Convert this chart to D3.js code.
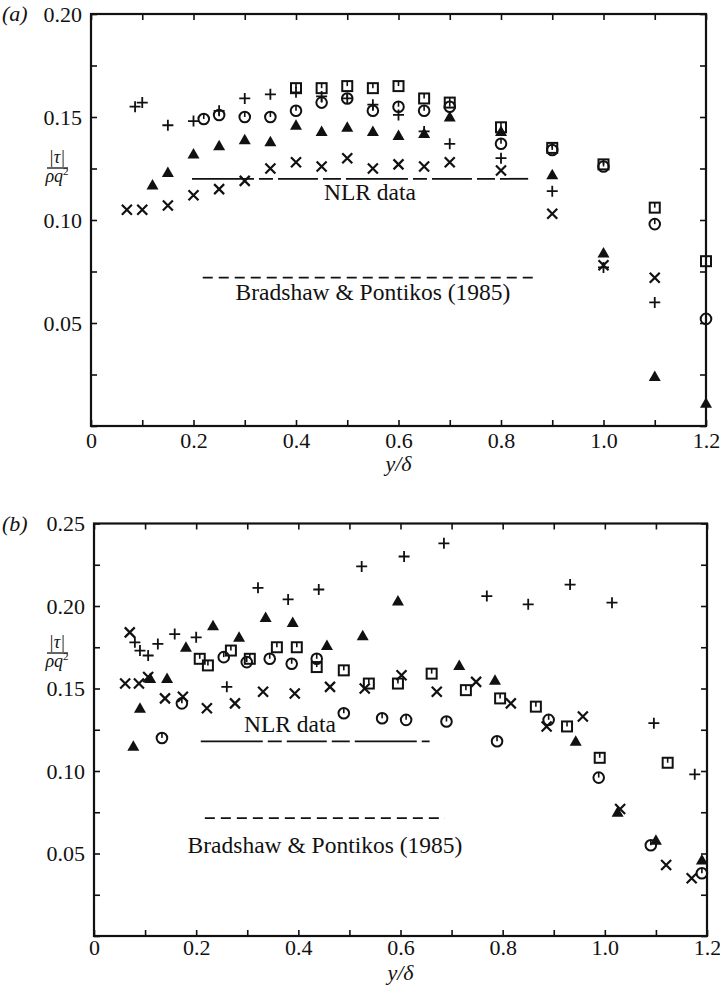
<!DOCTYPE html>
<html><head><meta charset="utf-8">
<script src="https://cdn.jsdelivr.net/npm/d3@7"></script>
<style>
html,body{margin:0;padding:0;background:#fff;}
text{font-family:"Liberation Serif","Times New Roman",serif;fill:#111;}
</style></head>
<body><div id="chart"></div>
<script>
// ---------- DATA ----------
const xTickValues = [0,0.1,0.2,0.3,0.4,0.5,0.6,0.7,0.8,0.9,1.0,1.1,1.2];
const xTickLabels = ["0","","0.2","","0.4","","0.6","","0.8","","1.0","","1.2"];
const yTicksA = [0,0.025,0.05,0.075,0.10,0.125,0.15,0.175,0.20];
const yTickLabelsA = ["","","0.05","","0.10","","0.15","","0.20"];
const yTicksB = [0,0.025,0.05,0.075,0.10,0.125,0.15,0.175,0.20,0.225,0.25];
const yTickLabelsB = ["","","0.05","","0.10","","0.15","","0.20","","0.25"];

// panel (a)
const squaresA_x = [0.40,0.45,0.50,0.55,0.60,0.65,0.70,0.80,0.90,1.00,1.10,1.20];
const squaresA_y = [0.164,0.164,0.165,0.164,0.165,0.159,0.157,0.145,0.135,0.127,0.106,0.080];
const circlesA_x = [0.22,0.25,0.30,0.35,0.40,0.45,0.50,0.55,0.60,0.65,0.70,0.80,0.90,1.00,1.10,1.20];
const circlesA_y = [0.149,0.151,0.150,0.150,0.153,0.157,0.159,0.153,0.155,0.153,0.155,0.137,0.134,0.126,0.098,0.052];
const trianglesA_x = [0.12,0.15,0.20,0.25,0.30,0.35,0.40,0.45,0.50,0.55,0.60,0.65,0.70,0.80,0.90,1.00,1.10,1.20];
const trianglesA_y = [0.117,0.123,0.132,0.136,0.139,0.138,0.146,0.143,0.145,0.143,0.141,0.142,0.150,0.143,0.122,0.084,0.024,0.011];
const plusA_x = [0.086,0.10,0.15,0.20,0.25,0.30,0.35,0.40,0.45,0.50,0.55,0.60,0.65,0.70,0.80,0.90,1.00,1.10];
const plusA_y = [0.155,0.157,0.146,0.148,0.153,0.159,0.161,0.162,0.160,0.159,0.156,0.151,0.143,0.137,0.130,0.114,0.077,0.060];
const crossA_x = [0.07,0.10,0.15,0.20,0.25,0.30,0.35,0.40,0.45,0.50,0.55,0.60,0.65,0.70,0.80,0.90,1.00,1.10];
const crossA_y = [0.105,0.105,0.107,0.112,0.115,0.119,0.125,0.128,0.126,0.130,0.125,0.127,0.126,0.128,0.124,0.103,0.078,0.072];
const nlrA = [0.197,0.853,0.120];      // x start, x end, level
const bradA = [0.218,0.862,0.072];

// panel (b)
const squaresB_x = [0.207,0.223,0.268,0.305,0.358,0.397,0.436,0.489,0.538,0.595,0.661,0.728,0.795,0.865,0.926,0.990,1.123];
const squaresB_y = [0.168,0.164,0.173,0.168,0.175,0.175,0.163,0.161,0.153,0.153,0.159,0.149,0.144,0.139,0.127,0.108,0.105];
const circlesB_x = [0.133,0.172,0.254,0.299,0.344,0.387,0.436,0.489,0.564,0.611,0.690,0.789,0.890,0.988,1.09,1.19];
const circlesB_y = [0.120,0.141,0.169,0.166,0.168,0.165,0.168,0.135,0.132,0.131,0.130,0.118,0.131,0.096,0.055,0.038];
const trianglesB_x = [0.077,0.090,0.110,0.143,0.180,0.233,0.284,0.336,0.389,0.456,0.526,0.595,0.715,0.785,0.943,1.025,1.10,1.19];
const trianglesB_y = [0.115,0.138,0.156,0.156,0.175,0.188,0.181,0.193,0.190,0.176,0.182,0.203,0.164,0.155,0.118,0.075,0.058,0.046];
const plusB_x = [0.080,0.090,0.106,0.125,0.158,0.200,0.260,0.321,0.380,0.440,0.524,0.607,0.685,0.769,0.850,0.932,1.014,1.096,1.176];
const plusB_y = [0.178,0.173,0.170,0.177,0.183,0.181,0.151,0.211,0.204,0.210,0.224,0.230,0.238,0.206,0.201,0.213,0.202,0.129,0.098];
const crossB_x = [0.061,0.070,0.088,0.106,0.139,0.174,0.221,0.276,0.331,0.393,0.462,0.530,0.602,0.671,0.748,0.816,0.886,0.957,1.03,1.12,1.17];
const crossB_y = [0.153,0.184,0.153,0.157,0.144,0.145,0.138,0.141,0.148,0.147,0.151,0.150,0.158,0.148,0.154,0.141,0.127,0.133,0.077,0.043,0.035];
const nlrB = [0.209,0.657,0.118];
const bradB = [0.217,0.687,0.0715];

const textNLR = "NLR data";
const textBrad = "Bradshaw & Pontikos (1985)";

// ---------- DRAW ----------
const W = 720, H = 985;
const svg = d3.select("#chart").append("svg").attr("width", W).attr("height", H);
const FS = 22, FS_NOTE = 23.5;

function zip(xs, ys){ return xs.map((x,i)=>[x, ys[i]]); }

function drawPanel(o){
  const g = svg.append("g");
  const x = d3.scaleLinear().domain([0,1.2]).range(o.xr);
  const y = d3.scaleLinear().domain(o.yd).range(o.yr);

  const clean = s => s.select(".domain").remove();
  g.append("g").attr("transform",`translate(0,${o.yr[0]})`)
    .call(d3.axisBottom(x).tickValues(xTickValues).tickSize(-6).tickPadding(o.xPad)
      .tickFormat((d,i)=>xTickLabels[i]))
    .call(clean);
  g.append("g").attr("transform",`translate(0,${o.yr[1]})`)
    .call(d3.axisTop(x).tickValues(xTickValues).tickSize(-6).tickFormat(""))
    .call(clean);
  g.append("g").attr("transform",`translate(${o.xr[0]},0)`)
    .call(d3.axisLeft(y).tickValues(o.yt).tickSize(-6).tickPadding(9)
      .tickFormat((d,i)=>o.ytl[i]))
    .call(clean);
  g.append("g").attr("transform",`translate(${o.xr[1]},0)`)
    .call(d3.axisRight(y).tickValues(o.yt).tickSize(-6).tickFormat(""))
    .call(clean);
  g.selectAll(".tick line").attr("stroke","#111").attr("stroke-width",1.6);
  g.selectAll(".tick text").attr("font-size",FS).attr("fill","#111")
    .style("font-family",'"Liberation Serif","Times New Roman",serif');

  g.append("rect").attr("x",o.xr[0]).attr("y",o.yr[1])
    .attr("width",o.xr[1]-o.xr[0]).attr("height",o.yr[0]-o.yr[1])
    .attr("fill","none").attr("stroke","#111").attr("stroke-width",2.2);

  g.append("text").attr("x",2).attr("y",y(o.yd[1])+7).attr("font-size",FS)
    .attr("font-style","italic").text(o.label);

  const ty = o.titleY;
  g.append("text").attr("x",57).attr("y",ty-5).attr("text-anchor","middle")
    .attr("font-size",18).attr("font-style","italic").text("|τ|");
  g.append("line").attr("x1",47).attr("x2",68).attr("y1",ty).attr("y2",ty)
    .attr("stroke","#111").attr("stroke-width",1.3);
  const den = g.append("text").attr("x",57).attr("y",ty+14).attr("text-anchor","middle")
    .attr("font-size",18).attr("font-style","italic");
  den.append("tspan").text("ρq");
  den.append("tspan").attr("dy",-7).attr("font-size",11).attr("font-style","normal").text("2");

  g.append("text").attr("x",(o.xr[0]+o.xr[1])/2).attr("y",o.yr[0]+o.xTitleOff)
    .attr("text-anchor","middle").attr("font-size",FS).attr("font-style","italic")
    .text("y/δ");

  g.append("line").attr("x1",x(o.nlr[0])).attr("x2",x(o.nlr[1]))
    .attr("y1",y(o.nlr[2])).attr("y2",y(o.nlr[2]))
    .attr("stroke","#111").attr("stroke-width",1.8).attr("stroke-dasharray","62,5,14,5,40,5,18,5");
  g.append("line").attr("x1",x(o.brad[0])).attr("x2",x(o.brad[1]))
    .attr("y1",y(o.brad[2])).attr("y2",y(o.brad[2]))
    .attr("stroke","#111").attr("stroke-width",1.8).attr("stroke-dasharray","10,6");
  g.append("text").attr("x",o.nlrText[0]).attr("y",o.nlrText[1]).attr("text-anchor","middle")
    .attr("font-size",FS_NOTE).text(textNLR);
  g.append("text").attr("x",o.bradText[0]).attr("y",o.bradText[1]).attr("text-anchor","middle")
    .attr("font-size",FS_NOTE).text(textBrad);

  const m = g.append("g").attr("stroke","#111").attr("fill","none");
  m.selectAll(".sq").data(zip(o.sq[0],o.sq[1])).join("g")
    .attr("transform",d=>`translate(${x(d[0])},${y(d[1])})`)
    .each(function(){
      const s = d3.select(this);
      s.append("rect").attr("x",-5).attr("y",-5).attr("width",10).attr("height",10).attr("stroke-width",2);
      s.append("line").attr("x1",0).attr("x2",0).attr("y1",-5).attr("y2",0).attr("stroke-width",1.6);
    });
  m.selectAll(".ci").data(zip(o.ci[0],o.ci[1])).join("g")
    .attr("transform",d=>`translate(${x(d[0])},${y(d[1])})`)
    .each(function(){
      const s = d3.select(this);
      s.append("circle").attr("r",5.3).attr("stroke-width",2);
      s.append("line").attr("x1",0).attr("x2",0).attr("y1",-5).attr("y2",0).attr("stroke-width",1.6);
    });
  m.selectAll(".tr").data(zip(o.tr[0],o.tr[1])).join("path")
    .attr("transform",d=>`translate(${x(d[0])},${y(d[1])})`)
    .attr("d","M0,-6L6,4.5L-6,4.5Z").attr("fill","#111").attr("stroke","none");
  m.selectAll(".pl").data(zip(o.pl[0],o.pl[1])).join("path")
    .attr("transform",d=>`translate(${x(d[0])},${y(d[1])})`)
    .attr("d","M-5.5,0H5.5M0,-5.5V5.5").attr("stroke-width",1.8);
  m.selectAll(".cr").data(zip(o.cr[0],o.cr[1])).join("path")
    .attr("transform",d=>`translate(${x(d[0])},${y(d[1])})`)
    .attr("d","M-5,-5L5,5M-5,5L5,-5").attr("stroke-width",2.2);
}

drawPanel({
  xr:[91,706], yr:[426,14], yd:[0,0.20], yt:yTicksA, ytl:yTickLabelsA, label:"(a)",
  titleY:168, xTitleOff:45, xPad:6,
  sq:[squaresA_x,squaresA_y], ci:[circlesA_x,circlesA_y], tr:[trianglesA_x,trianglesA_y],
  pl:[plusA_x,plusA_y], cr:[crossA_x,crossA_y],
  nlr:nlrA, brad:bradA, nlrText:[370,200], bradText:[373,300]
});
drawPanel({
  xr:[94,707], yr:[936,523.5], yd:[0,0.25], yt:yTicksB, ytl:yTickLabelsB, label:"(b)",
  titleY:653, xTitleOff:44, xPad:3,
  sq:[squaresB_x,squaresB_y], ci:[circlesB_x,circlesB_y], tr:[trianglesB_x,trianglesB_y],
  pl:[plusB_x,plusB_y], cr:[crossB_x,crossB_y],
  nlr:nlrB, brad:bradB, nlrText:[290,732], bradText:[325,853]
});
</script></body></html>
